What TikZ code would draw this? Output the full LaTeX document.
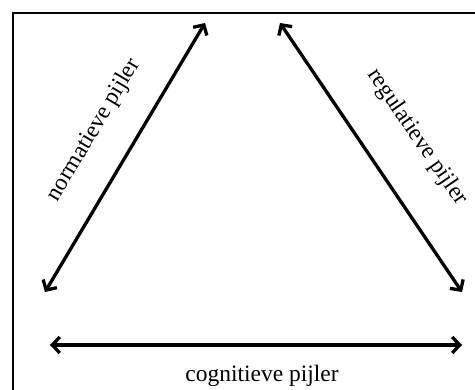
\documentclass[tikz,border=0pt]{standalone}
\usepackage{fontspec}
\setmainfont{Liberation Serif}
\usetikzlibrary{arrows.meta}
\begin{document}
\begin{tikzpicture}[x=1pt,y=-1pt,
  barb/.tip={Straight Barb[length=7.5pt,width=16pt,line width=3.3pt]},
  pillar/.style={line width=3.3pt,barb-barb},
  lbl/.style={font=\fontsize{23.5}{28}\selectfont,inner sep=0pt}]
\useasboundingbox (0,0) rectangle (475,390);
\clip (0,0) rectangle (475,390);
% frame, running off the right and bottom edges
\draw[line width=2.2pt] (13,13) rectangle (490,405);
% ends of the three pillars
\coordinate (nl) at (45,292);
\coordinate (nt) at (205,23);
\coordinate (rt) at (280,23);
\coordinate (rb) at (462,292);
\coordinate (cl) at (50,345);
\coordinate (cr) at (462,345);
\draw[pillar] (nl) -- (nt);
\draw[pillar] (rt) -- (rb);
\draw[pillar] (cl) -- (cr);
\node[lbl,rotate=59.3] (norm) at (94,130) {normatieve pijler};
\node[lbl,rotate=-55.5] (reg) at (417,137) {regulatieve pijler};
\node[lbl] (cog) at (262,376) {cognitieve pijler};
\end{tikzpicture}
\end{document}
